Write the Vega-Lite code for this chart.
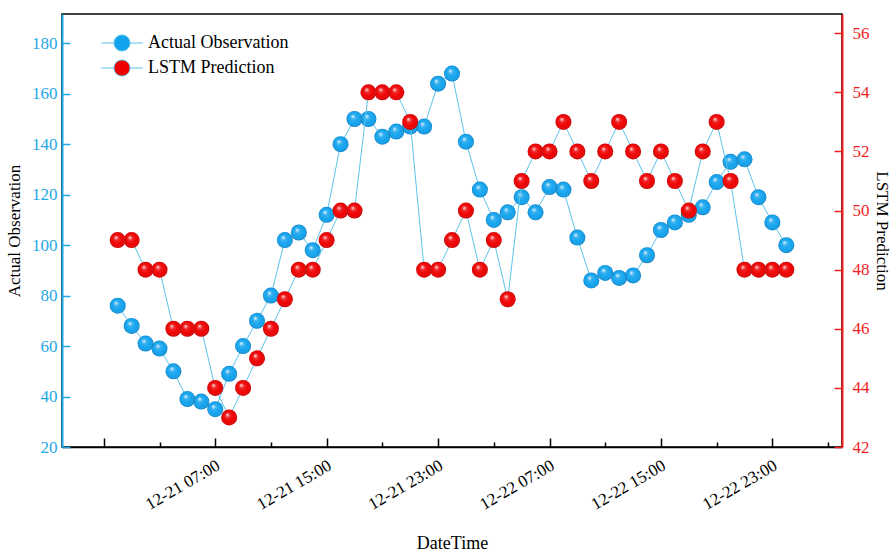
{
  "$schema": "https://vega.github.io/schema/vega-lite/v6.json",
  "width": 780,
  "height": 433,
  "autosize": "none",
  "padding": {"left": 62, "top": 14, "right": 53, "bottom": 107},
  "background": "white",
  "config": {
    "font": "Liberation Serif",
    "view": {"stroke": "#000", "strokeWidth": 1.5}
  },
  "data": {
    "values": [
      {"t": "2023-12-21T00:00:00", "obs": 76, "pred": 49},
      {"t": "2023-12-21T01:00:00", "obs": 68, "pred": 49},
      {"t": "2023-12-21T02:00:00", "obs": 61, "pred": 48},
      {"t": "2023-12-21T03:00:00", "obs": 59, "pred": 48},
      {"t": "2023-12-21T04:00:00", "obs": 50, "pred": 46},
      {"t": "2023-12-21T05:00:00", "obs": 39, "pred": 46},
      {"t": "2023-12-21T06:00:00", "obs": 38, "pred": 46},
      {"t": "2023-12-21T07:00:00", "obs": 35, "pred": 44},
      {"t": "2023-12-21T08:00:00", "obs": 49, "pred": 43},
      {"t": "2023-12-21T09:00:00", "obs": 60, "pred": 44},
      {"t": "2023-12-21T10:00:00", "obs": 70, "pred": 45},
      {"t": "2023-12-21T11:00:00", "obs": 80, "pred": 46},
      {"t": "2023-12-21T12:00:00", "obs": 102, "pred": 47},
      {"t": "2023-12-21T13:00:00", "obs": 105, "pred": 48},
      {"t": "2023-12-21T14:00:00", "obs": 98, "pred": 48},
      {"t": "2023-12-21T15:00:00", "obs": 112, "pred": 49},
      {"t": "2023-12-21T16:00:00", "obs": 140, "pred": 50},
      {"t": "2023-12-21T17:00:00", "obs": 150, "pred": 50},
      {"t": "2023-12-21T18:00:00", "obs": 150, "pred": 54},
      {"t": "2023-12-21T19:00:00", "obs": 143, "pred": 54},
      {"t": "2023-12-21T20:00:00", "obs": 145, "pred": 54},
      {"t": "2023-12-21T21:00:00", "obs": 147, "pred": 53},
      {"t": "2023-12-21T22:00:00", "obs": 147, "pred": 48},
      {"t": "2023-12-21T23:00:00", "obs": 164, "pred": 48},
      {"t": "2023-12-22T00:00:00", "obs": 168, "pred": 49},
      {"t": "2023-12-22T01:00:00", "obs": 141, "pred": 50},
      {"t": "2023-12-22T02:00:00", "obs": 122, "pred": 48},
      {"t": "2023-12-22T03:00:00", "obs": 110, "pred": 49},
      {"t": "2023-12-22T04:00:00", "obs": 113, "pred": 47},
      {"t": "2023-12-22T05:00:00", "obs": 119, "pred": 51},
      {"t": "2023-12-22T06:00:00", "obs": 113, "pred": 52},
      {"t": "2023-12-22T07:00:00", "obs": 123, "pred": 52},
      {"t": "2023-12-22T08:00:00", "obs": 122, "pred": 53},
      {"t": "2023-12-22T09:00:00", "obs": 103, "pred": 52},
      {"t": "2023-12-22T10:00:00", "obs": 86, "pred": 51},
      {"t": "2023-12-22T11:00:00", "obs": 89, "pred": 52},
      {"t": "2023-12-22T12:00:00", "obs": 87, "pred": 53},
      {"t": "2023-12-22T13:00:00", "obs": 88, "pred": 52},
      {"t": "2023-12-22T14:00:00", "obs": 96, "pred": 51},
      {"t": "2023-12-22T15:00:00", "obs": 106, "pred": 52},
      {"t": "2023-12-22T16:00:00", "obs": 109, "pred": 51},
      {"t": "2023-12-22T17:00:00", "obs": 112, "pred": 50},
      {"t": "2023-12-22T18:00:00", "obs": 115, "pred": 52},
      {"t": "2023-12-22T19:00:00", "obs": 125, "pred": 53},
      {"t": "2023-12-22T20:00:00", "obs": 133, "pred": 51},
      {"t": "2023-12-22T21:00:00", "obs": 134, "pred": 48},
      {"t": "2023-12-22T22:00:00", "obs": 119, "pred": 48},
      {"t": "2023-12-22T23:00:00", "obs": 109, "pred": 48},
      {"t": "2023-12-23T00:00:00", "obs": 100, "pred": 48}
    ]
  },
  "encoding": {
    "x": {
      "field": "t",
      "type": "temporal",
      "scale": {
        "domain": [
          {"year": 2023, "month": 12, "date": 20, "hours": 20},
          {"year": 2023, "month": 12, "date": 23, "hours": 4}
        ]
      },
      "axis": {
        "values": [
          {"year": 2023, "month": 12, "date": 20, "hours": 23},
          {"year": 2023, "month": 12, "date": 21, "hours": 3},
          {"year": 2023, "month": 12, "date": 21, "hours": 7},
          {"year": 2023, "month": 12, "date": 21, "hours": 11},
          {"year": 2023, "month": 12, "date": 21, "hours": 15},
          {"year": 2023, "month": 12, "date": 21, "hours": 19},
          {"year": 2023, "month": 12, "date": 21, "hours": 23},
          {"year": 2023, "month": 12, "date": 22, "hours": 3},
          {"year": 2023, "month": 12, "date": 22, "hours": 7},
          {"year": 2023, "month": 12, "date": 22, "hours": 11},
          {"year": 2023, "month": 12, "date": 22, "hours": 15},
          {"year": 2023, "month": 12, "date": 22, "hours": 19},
          {"year": 2023, "month": 12, "date": 22, "hours": 23},
          {"year": 2023, "month": 12, "date": 23, "hours": 3}
        ],
        "labelExpr": "(hours(datum.value) % 8 == 7 && datum.value > datetime(2023, 11, 20, 23, 30)) ? timeFormat(datum.value, '%m-%d %H:%M') : ''",
        "labelAngle": -30,
        "labelAlign": "right",
        "labelBaseline": "middle",
        "labelFontSize": 17,
        "labelColor": "#000",
        "labelPadding": 26,
        "labelOffset": 3,
        "labelOverlap": false,
        "tickSize": {"condition": {"test": "hours(datum.value) % 8 == 7", "value": -9}, "value": -5},
        "tickColor": "#000",
        "tickWidth": 1.5,
        "domainColor": "#000",
        "domainWidth": 1.5,
        "grid": false,
        "title": "DateTime",
        "titleFontSize": 18,
        "titleFontWeight": "normal",
        "titleColor": "#000",
        "titlePadding": 22
      }
    }
  },
  "layer": [
    {
      "mark": {"type": "line", "color": "#5cc4ec", "strokeWidth": 1},
      "encoding": {
        "y": {
          "field": "obs",
          "type": "quantitative",
          "scale": {"domain": [20, 191.6], "nice": false, "zero": false},
          "axis": {
            "orient": "left",
            "values": [20, 40, 60, 80, 100, 120, 140, 160, 180],
            "labelColor": "#1fa8e6",
            "labelFontSize": 17,
            "labelPadding": 13,
            "tickSize": -8,
            "tickColor": "#1fa8e6",
            "tickWidth": 1.5,
            "domainColor": "#1fa8e6",
            "domainWidth": 2,
            "grid": false,
            "title": "Actual Observation",
            "titleFontSize": 17,
            "titleFontWeight": "normal",
            "titleColor": "#000",
            "titlePadding": 8
          }
        }
      }
    },
    {
      "mark": {"type": "point", "filled": true, "opacity": 1, "size": 256, "strokeWidth": 0},
      "encoding": {
        "y": {"field": "obs", "type": "quantitative", "scale": {"domain": [20, 191.6], "nice": false, "zero": false}, "axis": null},
        "color": {
          "datum": "Actual Observation",
          "type": "nominal",
          "scale": {"domain": ["Actual Observation", "LSTM Prediction"], "range": ["#12a3ee", "#ee0000"]},
          "legend": {
            "title": null,
            "orient": "none",
            "legendX": 51,
            "legendY": 20,
            "padding": 0,
            "symbolType": "M-2.6,0H-1M1,0H2.6M1,0A1,1,0,1,1,-1,0A1,1,0,1,1,1,0Z",
            "symbolSize": 256,
            "symbolStrokeColor": "#5cc4ec",
            "symbolStrokeWidth": 1,
            "symbolOpacity": 1,
            "labelFontSize": 18,
            "labelColor": "#000",
            "labelOffset": 17,
            "rowPadding": 5
          }
        }
      }
    },
    {
      "mark": {
        "type": "point", "filled": true, "opacity": 1, "size": 256, "strokeWidth": 0,
        "fill": {"gradient": "radial", "x1": 0.38, "y1": 0.32, "r1": 0, "x2": 0.5, "y2": 0.5, "r2": 0.5,
          "stops": [
            {"offset": 0, "color": "rgba(255,255,255,0.95)"},
            {"offset": 0.3, "color": "rgba(255,255,255,0.15)"},
            {"offset": 0.7, "color": "rgba(255,255,255,0)"},
            {"offset": 1, "color": "rgba(0,0,40,0.22)"}
          ]}
      },
      "encoding": {
        "y": {"field": "obs", "type": "quantitative", "scale": {"domain": [20, 191.6], "nice": false, "zero": false}, "axis": null}
      }
    },
    {
      "mark": {"type": "line", "color": "#5cc4ec", "strokeWidth": 1},
      "encoding": {
        "y": {
          "field": "pred",
          "type": "quantitative",
          "scale": {"domain": [42, 56.65], "nice": false, "zero": false},
          "axis": {
            "orient": "right",
            "values": [42, 44, 46, 48, 50, 52, 54, 56],
            "labelColor": "#f01f1f",
            "labelFontSize": 17,
            "labelPadding": 18,
            "tickSize": -8,
            "tickColor": "#f01f1f",
            "tickWidth": 1.5,
            "domainColor": "#f01f1f",
            "domainWidth": 2,
            "grid": false,
            "title": "LSTM Prediction",
            "titleAngle": 90,
            "titleFontSize": 17,
            "titleFontWeight": "normal",
            "titleColor": "#000",
            "titlePadding": 3
          }
        }
      }
    },
    {
      "mark": {"type": "point", "filled": true, "opacity": 1, "size": 256, "strokeWidth": 0},
      "encoding": {
        "y": {"field": "pred", "type": "quantitative", "scale": {"domain": [42, 56.65], "nice": false, "zero": false}, "axis": null},
        "color": {
          "datum": "LSTM Prediction",
          "type": "nominal",
          "scale": {"domain": ["Actual Observation", "LSTM Prediction"], "range": ["#12a3ee", "#ee0000"]}
        }
      }
    },
    {
      "mark": {
        "type": "point", "filled": true, "opacity": 1, "size": 256, "strokeWidth": 0,
        "fill": {"gradient": "radial", "x1": 0.38, "y1": 0.32, "r1": 0, "x2": 0.5, "y2": 0.5, "r2": 0.5,
          "stops": [
            {"offset": 0, "color": "rgba(255,255,255,0.95)"},
            {"offset": 0.3, "color": "rgba(255,255,255,0.15)"},
            {"offset": 0.7, "color": "rgba(255,255,255,0)"},
            {"offset": 1, "color": "rgba(40,0,0,0.22)"}
          ]}
      },
      "encoding": {
        "y": {"field": "pred", "type": "quantitative", "scale": {"domain": [42, 56.65], "nice": false, "zero": false}, "axis": null}
      }
    }
  ],
  "resolve": {"scale": {"y": "independent"}}
}
